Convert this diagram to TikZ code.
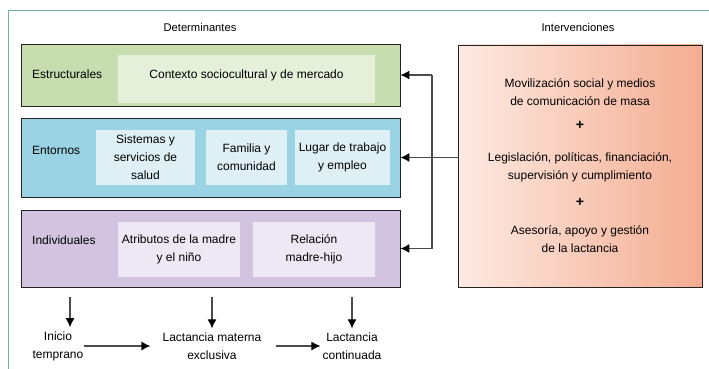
\documentclass[tikz,border=0pt]{standalone}
\usepackage{fontspec}
\setmainfont{Liberation Sans}
\usetikzlibrary{arrows.meta}
\definecolor{framegreen}{RGB}{110,182,152}
\definecolor{estrfill}{RGB}{198,221,175}
\definecolor{estrin}{RGB}{229,239,218}
\definecolor{entfill}{RGB}{154,211,227}
\definecolor{entin}{RGB}{222,240,246}
\definecolor{indfill}{RGB}{210,195,225}
\definecolor{indin}{RGB}{238,232,244}
\definecolor{intleft}{RGB}{253,234,226}
\definecolor{intright}{RGB}{244,172,145}
\definecolor{linegray}{RGB}{35,35,35}
\definecolor{wiregray}{RGB}{75,75,75}
\tikzstyle{group} = [rectangle, minimum width = 379pt, draw = linegray, line width = 0.9pt]
\tikzstyle{inbox} = [rectangle, align = center, inner sep = 0pt, minimum height = 55pt]
\tikzstyle{tag} = [anchor = west, inner sep = 0pt]
\tikzstyle{outcome} = [align = center, inner sep = 0pt]
\tikzstyle{head} = [font = \fontsize{11.2}{18}\selectfont]
\tikzstyle{arrow} = [draw = wiregray, line width = 1.2pt, -{Latex[length = 9pt, width = 9pt, color = black]}]
\newcommand{\plus}{{\fontsize{14}{18}\selectfont\textbf{+}}}

\begin{document}
\begin{tikzpicture}[x = 1pt, y = -1pt, font = \fontsize{12}{18}\selectfont]
    \useasboundingbox (0,0) rectangle (709,369);
    \draw[framegreen, line width = 1.8pt] (8.5,369) -- (8.5,10.5) -- (709,10.5);

    \node(dethead)[head] at (200,27) {Determinantes};
    \node(inthead)[head] at (578,27) {Intervenciones};

    % determinantes
    \node(estr)[group, fill = estrfill, minimum height = 62pt] at (210.5,75) {};
    \node(estrtag)[tag] at (32,74) {Estructurales};
    \node(ctx)[inbox, fill = estrin, minimum width = 257pt, minimum height = 48pt, text height = 9pt, text depth = 11pt] at (246.5,79) {Contexto sociocultural y de mercado};

    \node(ent)[group, fill = entfill, minimum height = 79pt] at (210.5,157.5) {};
    \node(enttag)[tag] at (32,150) {Entornos};
    \node(sis)[inbox, fill = entin, minimum width = 99pt] at (145.5,157.5) {Sistemas y\\servicios de\\salud};
    \node(fam)[inbox, fill = entin, minimum width = 81pt] at (246.5,157.5) {Familia y\\comunidad};
    \node(lug)[inbox, fill = entin, minimum width = 95pt] at (342.5,157.5) {Lugar de trabajo\\y empleo};

    \node(ind)[group, fill = indfill, minimum height = 77pt] at (210.5,248.5) {};
    \node(indtag)[tag] at (32,240) {Individuales};
    \node(atr)[inbox, fill = indin, minimum width = 122pt] at (179,249.5) {Atributos de la madre\\y el niño};
    \node(rel)[inbox, fill = indin, minimum width = 122pt] at (314,249.5) {Relación\\madre-hijo};

    % intervenciones
    \node(interv)[rectangle, draw = linegray, line width = 0.9pt, left color = intleft, right color = intright, minimum width = 244pt, minimum height = 242pt, align = center] at (580,166) {Movilización social y medios\\de comunicación de masa\\[6pt]\plus\\[14pt]Legislación, políticas, financiación,\\supervisión y cumplimiento\\[9pt]\plus\\[10pt]Asesoría, apoyo y gestión\\de la lactancia};

    % resultados
    \node(inicio)[outcome] at (58,346) {Inicio\\temprano};
    \node(excl)[outcome] at (212,346) {Lactancia materna\\exclusiva};
    \node(cont)[outcome] at (352,346) {Lactancia\\continuada};

    \coordinate(bus) at (432,158);
    \draw[arrow](interv.west |- ent.east)--(ent.east);
    \draw[wiregray, line width = 1.2pt](bus |- estr.east)--(bus |- ind.east);
    \draw[arrow](bus |- estr.east)--(estr.east);
    \draw[arrow](bus |- ind.east)--(ind.east);

    \draw[arrow, shorten <= 10pt, shorten >= 4pt]([xshift = 12pt]inicio.north |- ind.south)--([xshift = 12pt]inicio.north);
    \draw[arrow, shorten <= 10pt, shorten >= 4pt](ind.south -| excl)--(excl);
    \draw[arrow, shorten <= 10pt, shorten >= 4pt](ind.south -| cont)--(cont);
    \draw[arrow, shorten >= 12pt](inicio)--(excl);
    \draw[arrow, shorten <= 14pt, shorten >= 2pt](excl)--(cont);
\end{tikzpicture}
\end{document}
